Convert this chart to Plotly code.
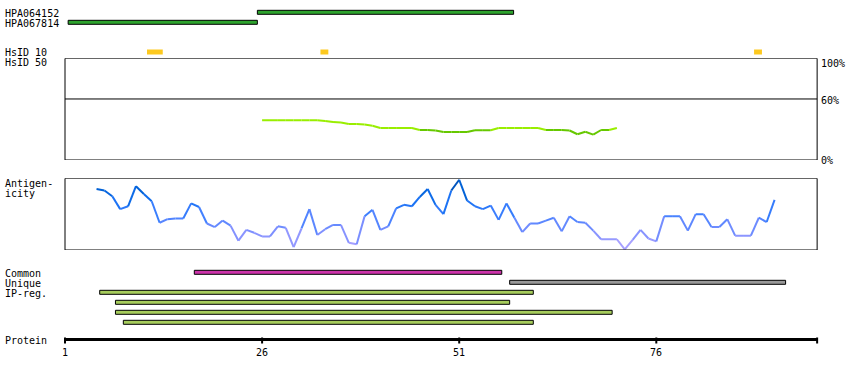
import plotly.graph_objects as go

# ---------------- data ----------------
protein_length = 96
tick_values = [1, 26, 51, 76]

antibody_names = ["HPA064152", "HPA067814"]
antibody_start = [25, 1]
antibody_end = [57.5, 25]

hsid10_start = [11, 33, 88]
hsid10_end = [13, 34, 89]

hsid50_residues = list(range(26, 72))
hsid50_pct = [39.0, 39.0, 39.0, 39.0, 39.0, 39.0, 39.0, 39.0, 38.3, 37.4,
              36.9, 35.4, 35.4, 34.9, 33.7, 31.5, 31.5, 31.5, 31.5, 31.5,
              29.5, 29.5, 29.0, 27.5, 27.5, 27.5, 27.5, 29.2, 29.2, 29.2,
              31.5, 31.5, 31.5, 31.5, 31.5, 31.5, 29.5, 29.5, 29.5, 29.0,
              25.3, 27.8, 25.0, 29.5, 29.5, 31.5]

antigen_residues = list(range(5, 92))
antigenicity = [0.85, 0.83, 0.75, 0.57, 0.61, 0.89, 0.78, 0.68, 0.38, 0.43,
                0.44, 0.44, 0.65, 0.60, 0.37, 0.32, 0.41, 0.34, 0.13, 0.28,
                0.24, 0.19, 0.19, 0.33, 0.31, 0.04, 0.30, 0.57, 0.21, 0.29,
                0.35, 0.35, 0.10, 0.08, 0.47, 0.56, 0.28, 0.33, 0.58, 0.63,
                0.61, 0.74, 0.85, 0.63, 0.50, 0.83, 0.98, 0.69, 0.61, 0.57,
                0.62, 0.42, 0.65, 0.45, 0.25, 0.37, 0.37, 0.41, 0.45, 0.26,
                0.47, 0.39, 0.38, 0.27, 0.15, 0.15, 0.15, 0.01, 0.14, 0.28,
                0.16, 0.12, 0.47, 0.47, 0.47, 0.27, 0.50, 0.50, 0.32, 0.32,
                0.43, 0.20, 0.20, 0.20, 0.45, 0.39, 0.70]

common_start = [17]
common_end = [56]
unique_start = [57]
unique_end = [92]
ipreg_start = [5, 7, 7, 8]
ipreg_end = [60, 57, 70, 60]

# ---------------- layout helpers ----------------
W, H = 850, 380
PX_PER_RES = 7.884
X0_PX = 65.0
x_range = [1 - X0_PX / PX_PER_RES, 1 + (W - X0_PX) / PX_PER_RES]
SHIFT = 0.4  # bar edge offset relative to residue tick
FONT = dict(family="DejaVu Sans Mono", size=10, color="black")


def dom(top_px, bot_px):
    return [1 - bot_px / H, 1 - top_px / H]


fig = go.Figure()
shapes = []
annotations = []


def label(text, xpx, ypx, anchor="left"):
    annotations.append(dict(x=xpx / W, xref="paper", y=ypx, yref="y", text=text,
                            showarrow=False, xanchor=anchor, yanchor="middle",
                            font=FONT))


def bar(s, e, ytop, color):
    shapes.append(dict(type="rect", xref="x", yref="y", x0=s + SHIFT, x1=e + SHIFT,
                       y0=ytop, y1=ytop + 4, fillcolor=color,
                       line=dict(color="black", width=1), layer="above"))


# antibodies
ab_rows = [10.3, 20.3]
for name, s, e, yt in zip(antibody_names, antibody_start, antibody_end, ab_rows):
    label(name, 3, yt + 2.8)
    bar(s, e, yt, "#2ea32e")

# HsID
label("HsID 10", 3, 52.8)
label("HsID 50", 3, 62.8)
for s, e in zip(hsid10_start, hsid10_end):
    shapes.append(dict(type="rect", xref="x", yref="y", x0=s + SHIFT, x1=e + SHIFT,
                       y0=49.5, y1=54.5, fillcolor="#fdc91f", line=dict(width=0)))

# HsID 50 panel box
shapes.append(dict(type="rect", xref="x", yref="y2", x0=1, x1=protein_length + SHIFT,
                   y0=0, y1=100, line=dict(color="black", width=1)))
shapes.append(dict(type="line", xref="x", yref="y2", x0=1, x1=protein_length + SHIFT,
                   y0=60, y1=60, line=dict(color="black", width=1)))
label("100%", 819, 63)
label("60%", 819, 100.5)
label("0%", 819, 160.5)

for i in range(len(hsid50_pct) - 1):
    avg = (hsid50_pct[i] + hsid50_pct[i + 1]) / 2
    col = "#99ee00" if avg >= 30 else "#66c800"
    fig.add_trace(go.Scatter(x=[hsid50_residues[i], hsid50_residues[i + 1]],
                             y=[hsid50_pct[i], hsid50_pct[i + 1]], mode="lines",
                             line=dict(color=col, width=2), yaxis="y2",
                             hoverinfo="skip", showlegend=False))

# Antigenicity
label("Antigen-", 3, 183.5)
label("icity", 3, 193.5)
shapes.append(dict(type="rect", xref="x", yref="y3", x0=1, x1=protein_length + SHIFT,
                   y0=0, y1=1, line=dict(color="black", width=1)))

stops = [(0.0, (184, 168, 255)), (0.25, (128, 144, 255)), (0.5, (64, 128, 255)),
         (0.7, (20, 112, 242)), (0.85, (0, 96, 212)), (1.0, (0, 62, 150))]


def acolor(v):
    for (a, ca), (b, cb) in zip(stops[:-1], stops[1:]):
        if v <= b:
            t = (v - a) / (b - a) if b > a else 0
            c = [round(ca[k] + (cb[k] - ca[k]) * t) for k in range(3)]
            return "rgb(%d,%d,%d)" % tuple(c)
    return "rgb(%d,%d,%d)" % stops[-1][1]


for i in range(len(antigenicity) - 1):
    avg = (antigenicity[i] + antigenicity[i + 1]) / 2
    fig.add_trace(go.Scatter(x=[antigen_residues[i], antigen_residues[i + 1]],
                             y=[antigenicity[i], antigenicity[i + 1]], mode="lines",
                             line=dict(color=acolor(avg), width=2), yaxis="y3",
                             hoverinfo="skip", showlegend=False))

# Common / Unique / IP-reg
label("Common", 3, 273)
label("Unique", 3, 283)
label("IP-reg.", 3, 293)
for s, e in zip(common_start, common_end):
    bar(s, e, 270.3, "#cc33aa")
for s, e in zip(unique_start, unique_end):
    bar(s, e, 280.3, "#999999")
for k, (s, e) in enumerate(zip(ipreg_start, ipreg_end)):
    bar(s, e, 290.3 + 10 * k, "#a6cc5c")

# Protein axis
label("Protein", 3, 340)
shapes.append(dict(type="line", xref="x", yref="y", x0=1, x1=protein_length + SHIFT,
                   y0=339.5, y1=339.5, line=dict(color="black", width=3)))
for t in tick_values + [protein_length + SHIFT]:
    shapes.append(dict(type="line", xref="x", yref="y", x0=t, x1=t, y0=337.5, y1=343.5,
                       line=dict(color="black", width=2)))
for t in tick_values:
    annotations.append(dict(x=t, xref="x", y=352, yref="y", text=str(t), showarrow=False,
                            xanchor="center", yanchor="middle", font=FONT))

fig.update_layout(
    width=W, height=H, autosize=False,
    margin=dict(l=0, r=0, t=0, b=0, pad=0),
    paper_bgcolor="white", plot_bgcolor="white",
    showlegend=False,
    xaxis=dict(range=x_range, visible=False, fixedrange=True),
    yaxis=dict(range=[H, 0], domain=[0, 1], visible=False, fixedrange=True),
    yaxis2=dict(range=[0, 100], domain=dom(58.3, 160), visible=False, anchor="x",
                fixedrange=True),
    yaxis3=dict(range=[0, 1], domain=dom(178.3, 250), visible=False, anchor="x",
                fixedrange=True),
    shapes=shapes,
    annotations=annotations,
)

fig.write_html("out.html", config={"displayModeBar": False})
